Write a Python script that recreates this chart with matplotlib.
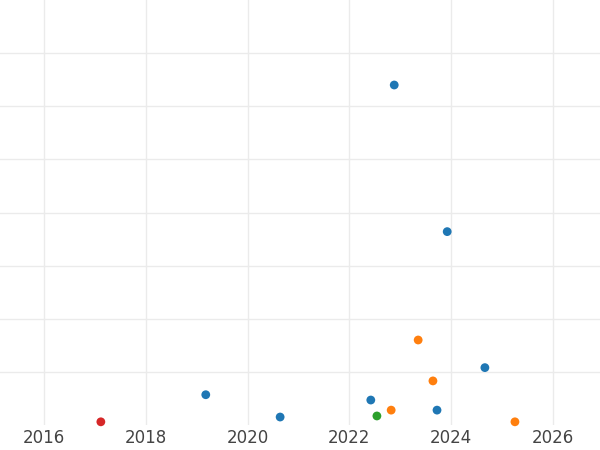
import matplotlib
matplotlib.use("Agg")
import matplotlib.pyplot as plt

blue_x = [2022.88, 2023.92, 2024.66, 2019.18, 2020.64, 2022.42, 2023.72]
blue_y = [6.40, 3.64, 1.08, 0.57, 0.15, 0.47, 0.28]
orange_x = [2023.35, 2023.64, 2022.82, 2025.25]
orange_y = [1.60, 0.83, 0.28, 0.06]
green_x = [2022.54]
green_y = [0.17]
red_x = [2017.12]
red_y = [0.06]
xticks = [2016, 2018, 2020, 2022, 2024, 2026]

fig = plt.figure(figsize=(6, 4.5), dpi=100)
ax = fig.add_axes([0, 25/450, 1, 425/450])
ax.set_xlim(2015.14, 2026.92)
ax.set_ylim(0, 8.0)
for s in ax.spines.values():
    s.set_visible(False)
ax.set_xticks(xticks)
ax.set_xticklabels([str(t) for t in xticks], fontsize=12, color="#444444")
ax.set_yticks([1, 2, 3, 4, 5, 6, 7])
ax.tick_params(axis="y", left=False, labelleft=False)
ax.tick_params(axis="x", length=0, pad=3)
ax.grid(True, color="#ebebeb", linewidth=1)
ax.set_axisbelow(True)
for xs, ys, c in [(blue_x, blue_y, "#1f77b4"), (orange_x, orange_y, "#ff7f0e"),
                  (green_x, green_y, "#2ca02c"), (red_x, red_y, "#d62728")]:
    ax.scatter(xs, ys, s=40, color=c, zorder=3, clip_on=False, edgecolors="none")
fig.savefig("out.png", dpi=100)
